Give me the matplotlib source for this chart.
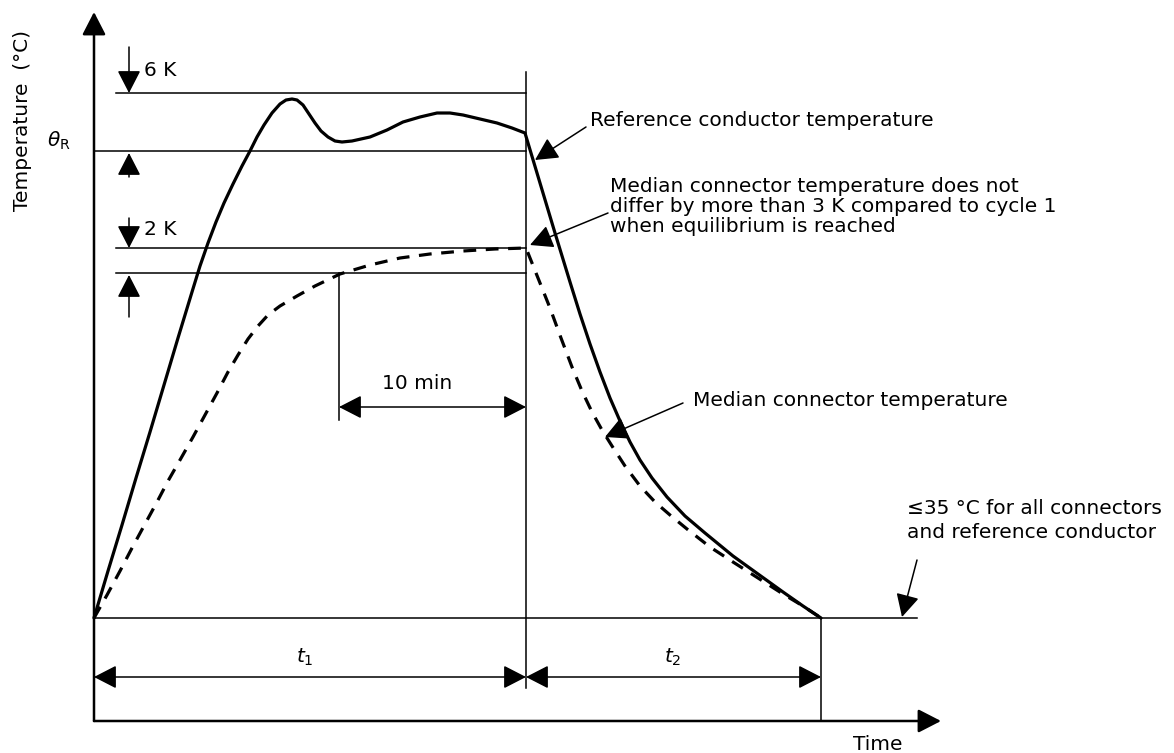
import matplotlib
matplotlib.use("Agg")
import matplotlib.pyplot as plt

plt.rcParams['font.family'] = ['DejaVu Sans']
plt.rcParams['mathtext.fontset'] = 'dejavusans'

# Drawing units: pixels of the 1174x753 sheet, y grows downwards
# Reference conductor temperature (solid)
ref_x = [94, 108, 122, 136, 150, 164, 178, 192, 200, 208, 216, 224, 233, 242, 250, 257,
         264, 272, 280, 286, 292, 297, 303, 309, 315, 321, 328, 335, 342, 352, 370, 387,
         403, 420, 437, 450, 463, 480, 497, 512, 525,
         540, 555, 570, 580, 590, 600, 610, 620, 630, 640, 652, 667, 685, 705, 733, 758,
         783, 803, 821]
ref_y = [618, 571, 525, 478, 432, 385, 338, 292, 266, 243, 222, 203, 184, 166, 151, 137,
         125, 113, 104, 100, 99, 100, 105, 114, 123, 131, 137, 141, 142, 141, 137, 130,
         122, 117, 113, 113, 115, 119, 123, 128, 133,
         183, 233, 282, 314, 344, 372, 398, 421, 442, 460, 478, 497, 516, 533, 556, 574,
         592, 606, 618]

# Median connector temperature (dashed)
med_x = [94, 107, 120, 132, 145, 157, 168, 180, 193, 205, 217, 228, 238, 248, 258, 268,
         280, 297, 315, 340, 370, 400, 430, 463, 495, 526,
         538, 550, 561, 572, 582, 592, 602, 612, 625, 640, 655, 670, 687, 710, 733, 758,
         783, 803, 821]
med_y = [618, 595, 571, 548, 524, 502, 481, 460, 437, 415, 393, 372, 355, 339, 326, 315,
         306, 296, 286, 274, 265, 258, 254, 251, 249, 248,
         278, 308, 338, 367, 391, 412, 430, 446, 466, 486, 502, 515, 529, 547, 562, 578,
         594, 606, 618]

# key levels and times
y_top6k = 93
y_theta = 151
y_2k_hi = 248
y_2k_lo = 273
y_base = 618
y_axis_x = 721
x_origin = 94
x_t1 = 526
x_10min = 339
x_t2 = 821
y_dim = 677

median_note = ['Median connector temperature does not',
               'differ by more than 3 K compared to cycle 1',
               'when equilibrium is reached']
limit_note = ['≤35 °C for all connectors', 'and reference conductor']

fig = plt.figure(figsize=(11.74, 7.53), dpi=100)
ax = fig.add_axes([0, 0, 1, 1])
ax.set_xlim(0, 1174)
ax.set_ylim(753, 0)
ax.axis('off')

ax.plot(ref_x, ref_y, color='k', lw=2.3, solid_joinstyle='round', solid_capstyle='round')
ax.plot(med_x, med_y, color='k', lw=2.3, dashes=(4, 3), dash_capstyle='butt')

thin = dict(color='k', lw=1.1)
ax.plot([116, x_t1], [y_top6k, y_top6k], **thin)
ax.plot([x_origin, x_t1], [y_theta, y_theta], **thin)
ax.plot([116, x_t1], [y_2k_hi, y_2k_hi], **thin)
ax.plot([116, x_t1], [y_2k_lo, y_2k_lo], **thin)
ax.plot([x_t1, x_t1], [72, 688], **thin)
ax.plot([x_origin, 917], [y_base, y_base], **thin)
ax.plot([x_10min, x_10min], [y_2k_lo, 420], **thin)
ax.plot([x_t2, x_t2], [y_base, y_axis_x], **thin)


def arrow(tail, tip, style='-|>', lw=1.1):
    ax.annotate('', xy=tip, xytext=tail,
                arrowprops=dict(arrowstyle=style + ',head_length=0.7,head_width=0.36',
                                mutation_scale=20, lw=lw, color='k',
                                shrinkA=0, shrinkB=0))


# axes
arrow((x_origin, y_axis_x), (x_origin, 12), lw=1.8)
arrow((x_origin, y_axis_x), (941, y_axis_x), lw=1.8)

# level markers
arrow((129, 47), (129, y_top6k))
arrow((129, 177), (129, y_theta + 2))
arrow((129, 218), (129, y_2k_hi))
arrow((129, 317), (129, y_2k_lo + 2))

# dimension arrows
arrow((x_10min, 407), (x_t1, 407), style='<|-|>')
arrow((x_origin, y_dim), (x_t1, y_dim), style='<|-|>')
arrow((x_t1, y_dim), (x_t2, y_dim), style='<|-|>')

# callouts
arrow((586, 127), (535, 160))
arrow((608, 213), (530, 245))
arrow((683, 403), (605, 437))
arrow((917, 560), (902, 617))

fs = 14.5
ax.text(23, 120, 'Temperature  (°C)', rotation=90, ha='center', va='center', fontsize=fs)
ax.text(59, 141, r'$\theta_{\mathrm{R}}$', ha='center', va='center', fontsize=fs)
ax.text(144, 70, '6 K', ha='left', va='center', fontsize=fs)
ax.text(144, 229, '2 K', ha='left', va='center', fontsize=fs)
ax.text(417, 383, '10 min', ha='center', va='center', fontsize=fs)
ax.text(305, 657, r'$t_{1}$', ha='center', va='center', fontsize=fs)
ax.text(673, 657, r'$t_{2}$', ha='center', va='center', fontsize=fs)
ax.text(590, 120, 'Reference conductor temperature', ha='left', va='center', fontsize=fs)
for i, line in enumerate(median_note):
    ax.text(610, 186 + 20 * i, line, ha='left', va='center', fontsize=fs)
ax.text(693, 400, 'Median connector temperature', ha='left', va='center', fontsize=fs)
for i, line in enumerate(limit_note):
    ax.text(907, 509 + 24 * i, line, ha='left', va='center', fontsize=fs)
ax.text(878, 745, 'Time', ha='center', va='center', fontsize=fs)

fig.savefig('out.png', dpi=100)
